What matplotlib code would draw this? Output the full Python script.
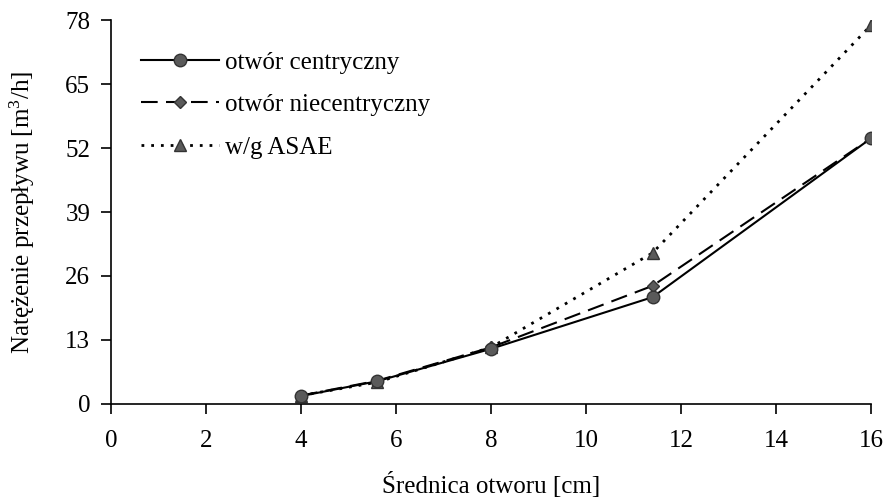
import matplotlib
matplotlib.use('Agg')
import matplotlib.pyplot as plt

# data
diam = [4, 5.6, 8, 11.4, 16]
centric = [1.6, 4.6, 11.2, 21.7, 54.0]
noncentric = [1.7, 4.7, 11.5, 24.0, 54.0]
asae = [1.7, 4.4, 11.5, 30.7, 77.0]

xticks = [0, 2, 4, 6, 8, 10, 12, 14, 16]
yticks = [0, 13, 26, 39, 52, 65, 78]

plt.rcParams['font.family'] = ['Liberation Serif', 'DejaVu Serif']
plt.rcParams['font.size'] = 18
plt.rcParams['mathtext.fontset'] = 'custom'
plt.rcParams['mathtext.rm'] = 'Liberation Serif'

fig = plt.figure(figsize=(8.88, 5.03), dpi=100)
ax = fig.add_axes([0.125, 0.197, 0.856, 0.763])

mc = '#5a5a5a'
ax.plot(diam, centric, '-', color='black', lw=1.5, marker='o', ms=9,
        mfc=mc, mec='#333333', label='otwór centryczny', zorder=3)
ax.plot(diam, noncentric, color='black', lw=1.5, ls=(0, (8, 4)), marker='D', ms=6,
        mfc=mc, mec='#333333', label='otwór niecentryczny', zorder=2)
ax.plot(diam, asae, color='black', lw=2.0, ls=(0, (1, 2.5)), marker='^', ms=9,
        mfc=mc, mec='#333333', label='w/g ASAE', zorder=1)

ax.set_xlim(0, 16)
ax.set_ylim(0, 78)
ax.set_xticks(xticks)
ax.set_yticks(yticks)
ax.spines['top'].set_visible(False)
ax.spines['right'].set_visible(False)
ax.spines['left'].set_linewidth(1.2)
ax.spines['bottom'].set_linewidth(1.2)
ax.tick_params(direction='out', length=7, width=1.2, labelsize=18)
ax.tick_params(axis='x', pad=12)
ax.tick_params(axis='y', pad=8)

ax.set_xlabel('Średnica otworu [cm]', fontsize=18, labelpad=14)
ax.set_ylabel('Natężenie przepływu [m$\\mathregular{^3}$/h]', fontsize=18, labelpad=20)

ax.legend(loc='upper left', bbox_to_anchor=(0.01, 0.978), frameon=False,
          handlelength=3.1, handletextpad=0.25, labelspacing=0.8, fontsize=18)

fig.savefig('out.png', dpi=100)
